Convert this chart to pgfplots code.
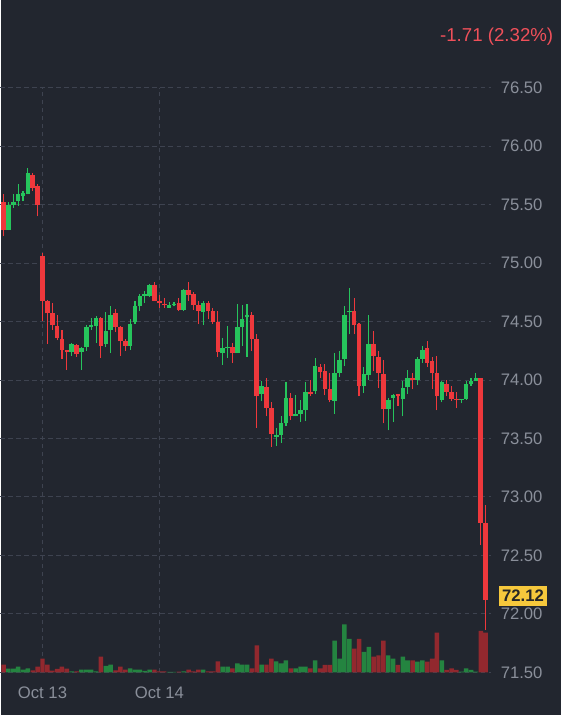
\documentclass[border=0pt]{standalone}
\usepackage{fontspec}
\setmainfont{Liberation Sans}
\usepackage{pgfplots}
\pgfplotsset{compat=1.18}
\usepackage{pgfplotstable}
\definecolor{bg}{RGB}{34,38,47}
\definecolor{upc}{RGB}{38,196,92}
\definecolor{dnc}{RGB}{238,56,60}
\definecolor{volup}{RGB}{36,132,64}
\definecolor{voldn}{RGB}{146,40,46}
\definecolor{gridc}{RGB}{62,67,80}
\definecolor{tickc}{RGB}{138,143,154}
\definecolor{hdr}{RGB}{240,80,90}
\definecolor{boxc}{RGB}{246,200,60}

\pgfplotstableread{
n o h l c v
2 75.28 75.52 75.28 75.50 11
3 75.50 75.59 75.475 75.52 11
4 75.53 75.675 75.49 75.59 17
5 75.575 75.62 75.53 75.60 8
6 75.595 75.81 75.59 75.77 12
15 74.24 74.32 74.21 74.31 3
17 74.24 74.28 74.09 74.27 8
18 74.28 74.47 74.25 74.45 8
19 74.45 74.53 74.43 74.47 8
20 74.46 74.55 74.32 74.53 3
22 74.31 74.58 74.28 74.42 19
23 74.43 74.63 74.23 74.56 23
27 74.29 74.52 74.26 74.48 12
28 74.50 74.68 74.48 74.63 8
29 74.63 74.74 74.59 74.72 8
30 74.72 74.76 74.66 74.73 4
31 74.72 74.82 74.71 74.81 8
35 74.62 74.67 74.62 74.64 1
36 74.64 74.67 74.63 74.65 1
38 74.60 74.78 74.59 74.77 3
42 74.58 74.68 74.47 74.66 8
46 74.23 74.36 74.13 74.27 17
47 74.27 74.46 74.19 74.28 17
49 74.23 74.65 74.23 74.45 27
50 74.45 74.64 74.29 74.52 23
51 74.54 74.65 74.20 74.56 23
54 73.88 73.99 73.82 73.95 23
57 73.51 73.59 73.44 73.53 33
58 73.53 73.69 73.46 73.63 27
59 73.63 73.98 73.61 73.85 36
61 73.69 73.87 73.69 73.71 12
62 73.71 73.83 73.64 73.74 17
63 73.74 73.98 73.65 73.90 17
65 73.91 74.19 73.88 74.12 36
69 73.82 74.23 73.71 74.06 95
70 74.06 74.25 74.03 74.17 41
71 74.18 74.63 74.12 74.56 144
72 74.58 74.79 74.39 74.59 100
75 73.95 74.11 73.89 74.05 61
76 74.04 74.56 74.00 74.31 76
80 73.75 73.85 73.57 73.83 51
81 73.85 73.88 73.64 73.87 41
83 73.84 73.99 73.69 73.93 47
84 73.94 74.09 73.88 74.02 36
86 74.00 74.20 73.96 74.18 32
87 74.18 74.29 74.15 74.26 36
91 73.83 73.99 73.81 73.98 36
95 73.83 73.84 73.80 73.84 2
96 73.84 73.99 73.83 73.97 12
97 73.97 74.02 73.95 73.99 7
98 73.99 74.06 73.99 74.02 2
}\upt

\pgfplotstableread{
n o h l c v
1 75.52 75.59 75.23 75.28 23
7 75.755 75.775 75.62 75.647 6
8 75.66 75.675 75.40 75.50 17
9 75.06 75.09 74.505 74.68 41
10 74.68 74.685 74.31 74.57 23
11 74.57 74.66 74.43 74.47 5
12 74.46 74.56 74.34 74.36 10
13 74.35 74.43 74.18 74.26 17
14 74.26 74.26 74.09 74.24 11
16 74.30 74.31 74.20 74.22 3
21 74.53 74.54 74.19 74.29 47
24 74.57 74.61 74.41 74.45 6
25 74.45 74.46 74.21 74.33 17
26 74.33 74.35 74.25 74.29 8
32 74.81 74.84 74.68 74.68 8
33 74.68 74.73 74.62 74.66 3
34 74.65 74.70 74.62 74.64 3
37 74.66 74.70 74.59 74.60 2
39 74.77 74.84 74.68 74.73 8
40 74.74 74.75 74.60 74.64 3
41 74.64 74.68 74.48 74.59 8
43 74.66 74.68 74.52 74.59 3
44 74.59 74.62 74.48 74.50 3
45 74.50 74.59 74.20 74.24 33
48 74.28 74.32 74.15 74.23 12
52 74.56 74.58 74.25 74.35 12
53 74.35 74.39 73.59 73.86 81
55 73.94 74.02 73.69 73.76 23
56 73.76 73.81 73.43 73.54 41
60 73.85 73.89 73.66 73.69 12
64 73.90 74.00 73.86 73.88 12
66 74.11 74.14 74.02 74.07 12
67 74.08 74.14 73.87 73.92 22
68 73.92 74.06 73.81 73.83 22
73 74.59 74.70 74.39 74.47 71
74 74.48 74.49 73.86 73.95 100
77 74.31 74.42 74.08 74.21 47
78 74.20 74.25 73.93 74.06 51
79 74.05 74.17 73.63 73.75 95
82 73.88 73.88 73.78 73.86 22
85 74.02 74.06 73.92 74.00 36
88 74.27 74.33 74.11 74.15 32
89 74.16 74.20 73.92 74.06 41
90 74.06 74.21 73.74 73.86 119
92 73.97 74.00 73.86 73.90 7
93 73.90 73.95 73.82 73.84 12
94 73.84 73.90 73.76 73.83 7
99 74.02 74.02 72.59 72.78 124
100 72.78 72.93 71.86 72.12 119
}\dnt

\begin{document}
\begin{tikzpicture}[x=0.75pt,y=0.75pt]
\fill[bg] (0,0) rectangle (560,715);
% price axis
\begin{axis}[name=price, at={(0,36.5)}, anchor=south west, scale only axis,
  width=367.5pt, height=438.4pt, xmin=0.376, xmax=101, ymin=71.5, ymax=76.5,
  clip=true,
  axis line style={draw=none}, tick style={draw=none},
  xtick={9,33}, xticklabels={Oct 13, Oct 14},
  ytick={71.5,72,72.5,73,73.5,74,74.5,75,75.5,76,76.5},
  yticklabel pos=right,
  xmajorgrids, ymajorgrids,
  grid style={gridc, line width=0.75pt, dash pattern=on 3.6pt off 2.4pt},
  /pgf/number format/.cd, fixed, fixed zerofill, precision=2, assume math mode=true,
  /pgfplots/.cd,
  ticklabel style={font=\fontsize{12.5}{14}\selectfont, text=tickc},
  yticklabel style={anchor=west, inner sep=0pt, xshift=7.5pt},
  xticklabel style={anchor=center, inner sep=0pt, yshift=-15pt},
]
\end{axis}
% volume
\begin{axis}[at={(price.south west)}, anchor=south west, scale only axis,
  width=367.5pt, height=120pt, xmin=0.376, xmax=101, ymin=0, ymax=480,
  hide axis]
\addplot[ybar, bar width=0.92, bar shift=0pt, fill=volup, draw=none] table[x=n,y=v]{\upt};
\addplot[ybar, bar width=0.92, bar shift=0pt, fill=voldn, draw=none] table[x=n,y=v]{\dnt};
\end{axis}
% candles
\begin{axis}[at={(price.south west)}, anchor=south west, scale only axis,
  width=367.5pt, height=438.4pt, xmin=0.376, xmax=101, ymin=71.5, ymax=76.5,
  hide axis]
\addplot[draw=none, mark=none, error bars/.cd, y dir=plus, y explicit, error mark=none,
  error bar style={draw=upc, line width=0.8pt}]
  table[x=n, y=l, y error plus expr=\thisrow{h}-\thisrow{l}]{\upt};
\addplot[draw=none, mark=none, error bars/.cd, y dir=plus, y explicit, error mark=none,
  error bar style={draw=dnc, line width=0.8pt}]
  table[x=n, y=l, y error plus expr=\thisrow{h}-\thisrow{l}]{\dnt};
\addplot[draw=none, mark=none, error bars/.cd, y dir=plus, y explicit, error mark=none,
  error bar style={draw=upc, line width=3.4pt}]
  table[x=n, y=o, y error plus expr={max(\thisrow{c}-\thisrow{o},0.012)}]{\upt};
\addplot[draw=none, mark=none, error bars/.cd, y dir=plus, y explicit, error mark=none,
  error bar style={draw=dnc, line width=3.4pt}]
  table[x=n, y=c, y error plus expr={max(\thisrow{o}-\thisrow{c},0.012)}]{\dnt};
\end{axis}
\node[anchor=west, fill=boxc, text=black!85, inner xsep=2.5pt, inner ysep=0pt,
  minimum height=15pt, font=\bfseries\fontsize{12.5}{14}\selectfont] at (498,119) {72.12};
\node[anchor=east, text=hdr, inner sep=0pt, font=\fontsize{14}{16}\selectfont] at (553,678) {-1.71 (2.32\%)};
\end{tikzpicture}
\end{document}
